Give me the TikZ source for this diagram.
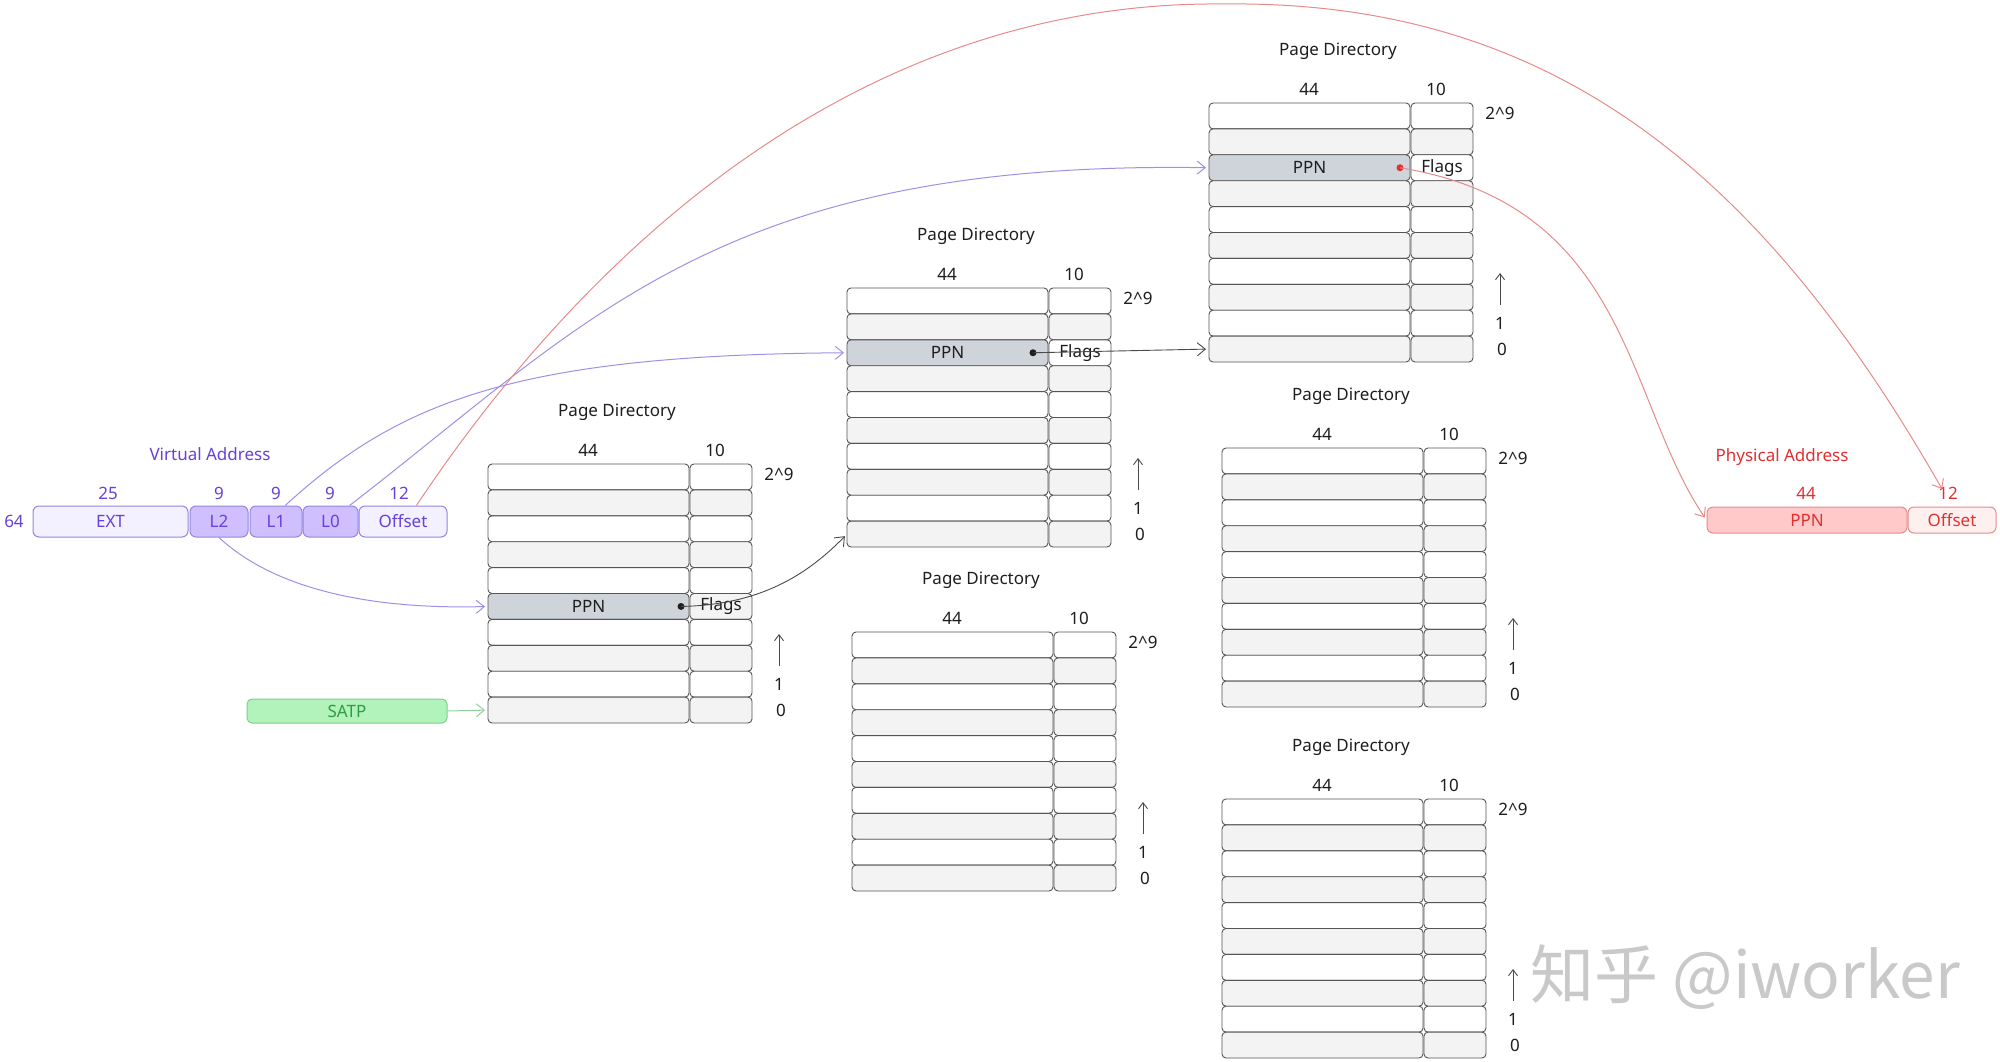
\documentclass[tikz,border=0pt]{standalone}
\usepackage{fontspec}
\setmainfont{Noto Sans}
\newfontfamily\cjkfont{Noto Sans CJK SC}
\usetikzlibrary{arrows.meta,calc}
\definecolor{rowline}{HTML}{555555}
\definecolor{rowgray}{HTML}{F3F3F3}
\definecolor{ppngray}{HTML}{CED4DA}
\definecolor{txtblack}{HTML}{1E1E1E}
\definecolor{vstroke}{HTML}{9485E0}
\definecolor{vlight}{HTML}{F3F0FF}
\definecolor{vmid}{HTML}{D0BFFF}
\definecolor{vtext}{HTML}{6741D9}
\definecolor{varrowc}{HTML}{9D91E6}
\definecolor{pstroke}{HTML}{E58B8B}
\definecolor{pmid}{HTML}{FFC9C9}
\definecolor{plight}{HTML}{FFF0F0}
\definecolor{ptext}{HTML}{E03131}
\definecolor{parrowc}{HTML}{E88A8A}
\definecolor{gstroke}{HTML}{7BD08A}
\definecolor{gfill}{HTML}{B2F2BB}
\definecolor{gtext}{HTML}{2F9E44}
\definecolor{garrowc}{HTML}{8FD19B}
\definecolor{darrowc}{HTML}{4A4A4A}
\definecolor{wmcolor}{HTML}{C9C9C9}

\tikzset{
  cellL/.style={draw=rowline, line width=0.9pt, rounded corners=4pt,
    minimum width=201pt, minimum height=25.9pt, inner sep=0pt, outer sep=0pt},
  cellR/.style={cellL, minimum width=62pt},
  lbl/.style={inner sep=1pt},
  vlbl/.style={inner sep=1pt, text=vtext},
  plbl/.style={inner sep=1pt, text=ptext},
  vbox/.style={draw=vstroke, line width=1pt, rounded corners=6pt,
    minimum height=31pt, inner sep=0pt, text=vtext},
  pbox/.style={draw=pstroke, line width=1pt, rounded corners=6pt,
    minimum height=26pt, inner sep=0pt, text=ptext},
  barb/.style={-{Straight Barb[length=8pt,width=13pt]}},
  varr/.style={draw=varrowc, line width=1pt, barb, shorten >=3pt},
  parr/.style={draw=parrowc, line width=1pt, barb, shorten >=3pt},
  garr/.style={draw=garrowc, line width=1pt, barb, shorten >=3pt},
  darr/.style={draw=darrowc, line width=0.9pt, barb, shorten >=3pt},
  uparr/.style={draw=darrowc, line width=0.9pt, -{Straight Barb[length=6pt,width=9pt]}},
  dotnode/.style={circle, fill=txtblack, inner sep=0pt, minimum size=7pt},
}

% #1 name, #2 left x, #3 top y, #4 PPN row (-1 for none)
\newcommand\PageDir[4]{%
  \node[lbl] (#1-title) at (#2+129,#3-52) {Page Directory};
  \node[lbl] (#1-w44) at (#2+100,#3-14) {44};
  \node[lbl] (#1-w10) at (#2+227,#3-14) {10};
  \node[lbl] (#1-top) at (#2+291,#3+10) {2\textasciicircum 9};
  \coordinate (#1-a0) at (#2+291,#3+202);
  \coordinate (#1-a1) at (#2+291,#3+170);
  \draw[uparr] (#1-a0) -- (#1-a1);
  \node[lbl] (#1-one) at (#2+291,#3+220) {1};
  \node[lbl] (#1-zero) at (#2+293,#3+246) {0};
  \foreach \i in {0,...,9}{%
    \ifodd\i \def\rf{rowgray}\else\def\rf{white}\fi
    \ifnum\i=#4\relax
      \node[cellL,fill=ppngray] (#1-\i-l) at (#2+100.5,#3+12.95+25.9*\i) {PPN};
      \node[cellR,fill=\rf] (#1-\i-r) at (#2+233,#3+12.95+25.9*\i) {Flags};
    \else
      \node[cellL,fill=\rf] (#1-\i-l) at (#2+100.5,#3+12.95+25.9*\i) {};
      \node[cellR,fill=\rf] (#1-\i-r) at (#2+233,#3+12.95+25.9*\i) {};
    \fi
  }%
}

\begin{document}
\begin{tikzpicture}[x=1pt,y=-1pt,
  every node/.style={font=\fontsize{17}{20}\selectfont, text=txtblack}]
\useasboundingbox[fill=white] (0,0) rectangle (2000,1062);

% watermark
\node[font=\cjkfont\fontsize{64}{70}\selectfont, text=wmcolor] (wm) at (1745,977) {知乎 @iworker};

% page directories
\PageDir{pdA}{488}{464}{5}
\PageDir{pdB}{847}{288}{2}
\PageDir{pdC}{1209}{103}{2}
\PageDir{pdD}{852}{632}{-1}
\PageDir{pdE}{1222}{448}{-1}
\PageDir{pdF}{1222}{799}{-1}

% virtual address
\node[vlbl] (vtitle) at (210,454) {Virtual Address};
\node[vlbl] (v64) at (14,521) {64};
\node[vbox, fill=vlight, minimum width=155pt] (ext) at (110.5,521.5) {EXT};
\node[vbox, fill=vmid, minimum width=58pt] (l2) at (219,521.5) {L2};
\node[vbox, fill=vmid, minimum width=52pt] (l1) at (276,521.5) {L1};
\node[vbox, fill=vmid, minimum width=55pt] (l0) at (330.5,521.5) {L0};
\node[vbox, fill=vlight, minimum width=88pt] (voff) at (403,521.5) {Offset};
\node[vlbl] (w25) at (108,493) {25};
\node[vlbl] (w9a) at (219,493) {9};
\node[vlbl] (w9b) at (276,493) {9};
\node[vlbl] (w9c) at (330,493) {9};
\node[vlbl] (w12) at (399,493) {12};

% physical address
\node[plbl] (ptitle) at (1782,457) {Physical Address};
\node[pbox, fill=pmid, minimum width=200pt] (pppn) at (1807,520) {PPN};
\node[pbox, fill=plight, minimum width=88pt] (poff) at (1952,520) {Offset};
\node[plbl] (pw44) at (1806,493) {44};
\node[plbl] (pw12) at (1948,493) {12};

% SATP
\node[draw=gstroke, fill=gfill, line width=1pt, rounded corners=5pt,
  minimum width=200pt, minimum height=24pt, inner sep=0pt, text=gtext] (satp) at (347,711) {SATP};

% dots
\node[dotnode] (dotA) at ($(pdA-5-l.east)+(-8,0)$) {};
\node[dotnode] (dotB) at ($(pdB-2-l.east)+(-15,0)$) {};
\node[dotnode, fill=ptext] (dotC) at ($(pdC-2-l.east)+(-10,0)$) {};

% connectors
\draw[garr] (satp.east) -- (pdA-9-l.west);
\draw[varr] (l2.south) .. controls (270,585) and (360,610) .. (pdA-5-l.west);
\draw[varr] (l1.60) .. controls (400,400) and (520,355) .. (pdB-2-l.west);
\draw[varr] (l0.40) .. controls (590,320) and (720,160) .. (pdC-2-l.west);
\coordinate (peak) at (1224,4);
\draw[parr, shorten >=20pt] (voff.50) .. controls (580,260) and (850,0) .. (peak)
   .. controls (1550,0) and (1760,170) .. (poff.north);
\draw[parr] (dotC.center) .. controls (1630,205) and (1625,400) .. (pppn.west);
\draw[darr] (dotA.center) .. controls (760,605) and (807,575) .. (pdB-9-l.west);
\draw[darr] (dotB.center) -- (pdC-9-l.west);
\end{tikzpicture}
\end{document}
